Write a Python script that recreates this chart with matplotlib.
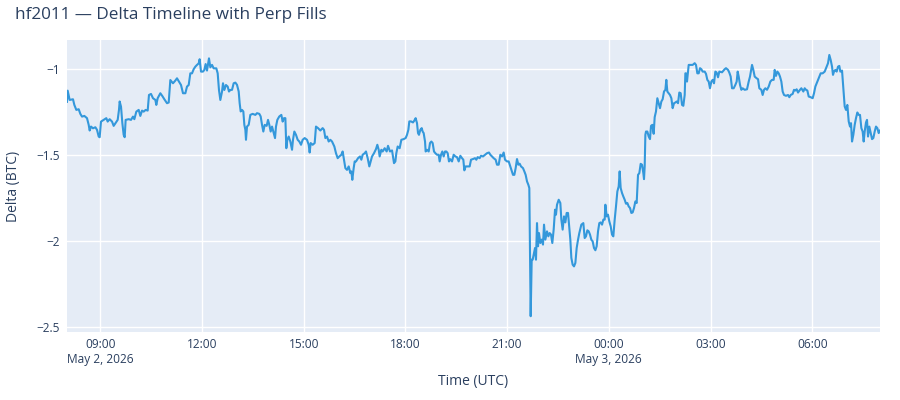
import numpy as np
import pandas as pd
import matplotlib
matplotlib.use("Agg")
import matplotlib.pyplot as plt
import matplotlib.dates as mdates

plt.rcParams['font.family'] = ['Open Sans', 'DejaVu Sans']

# minutes after 2026-05-02 08:00 UTC, and net delta in BTC
minutes = [
    1.0, 2.2, 5.7, 11.6, 14.0, 17.5, 21.7, 24.6, 27.6, 31.7, 36.4, 39.4, 41.1, 43.5, 47.0, 51.2,
    54.1, 57.1, 58.8, 61.2, 65.9, 70.6, 73.0, 76.5, 80.7, 83.6, 86.6, 90.7, 93.0, 94.2, 96.6, 99.0,
    101.3, 103.1, 104.8, 110.2, 114.3, 117.8, 120.2, 123.7, 127.9, 130.8, 133.8, 136.7, 140.2, 143.8,
    146.1, 149.7, 153.2, 157.4, 159.1, 161.5, 166.2, 169.7, 173.3, 178.0, 181.0, 183.9, 188.6, 192.8,
    195.7, 199.2, 202.8, 206.3, 210.5, 213.4, 216.4, 219.3, 222.3, 225.2, 228.2, 231.1, 234.1, 235.8,
    238.2, 241.7, 244.1, 246.4, 248.8, 252.3, 254.7, 257.7, 260.6, 265.3, 267.7, 270.0, 272.4, 275.4,
    277.1, 279.5, 282.4, 285.4, 287.7, 290.1,
    293.1, 296.0, 299.0, 301.9, 304.9, 306.6, 308.4, 310.8, 313.1, 314.9, 316.7, 317.8, 319.6, 322.6,
    325.5, 329.6, 334.4, 337.3, 341.4, 343.8, 346.2, 348.5, 350.9, 354.4, 356.8, 359.1, 361.5, 363.9,
    366.8, 369.2, 370.9, 373.3, 376.8, 380.4, 382.7, 385.1, 387.5, 389.2, 391.0, 393.4, 396.3, 399.3,
    401.0, 403.4, 406.3, 409.3, 412.2, 415.2, 418.1, 421.7, 425.8, 428.8, 430.5, 432.3, 435.8, 439.4,
    441.7, 445.3, 449.4, 453.5, 455.9, 458.3, 461.2, 464.2, 467.1, 470.1, 474.2, 477.1, 480.1, 483.0,
    486.6, 488.9, 491.3, 493.7, 496.6, 499.6, 502.5, 504.3, 506.0, 508.4, 510.2, 512.5, 516.1, 519.6,
    522.0, 524.3, 527.9, 530.2, 533.2, 536.1, 538.5, 540.9, 544.4, 547.9, 550.3, 552.7, 554.4, 557.4,
    559.7, 563.3, 566.8, 569.2, 572.7, 576.3, 578.0, 579.8, 582.2,
    583.9, 586.3, 589.8, 592.8, 596.9, 600.4, 602.8, 605.2, 606.9, 609.9, 613.4, 615.8, 618.1, 620.5,
    622.3, 624.0, 626.4, 628.8, 630.5, 632.3, 634.7, 635.8, 638.2, 641.2, 643.5, 645.9, 648.2, 650.6,
    653.0, 655.9, 658.9, 660.6, 663.0, 665.3, 667.7, 670.1, 672.4, 674.8, 677.1, 679.5, 682.5, 685.4,
    688.4, 691.3, 694.3, 697.2, 700.2, 702.5, 704.3, 706.6, 710.2, 713.7, 716.1, 719.6, 723.2, 725.5,
    727.9, 731.4, 733.8, 737.3, 740.9, 744.4, 747.9, 750.3, 753.3, 756.2, 759.7, 762.1, 765.1, 768.0,
    771.0, 773.9, 776.3, 779.8, 782.8, 785.7, 788.7, 790.4, 792.8, 795.1, 797.5, 799.9, 802.2, 804.6,
    808.1, 810.5, 812.8, 815.2, 817.6, 819.3, 819.9, 821.7, 823.5, 825.2, 827.0, 829.4, 831.1, 832.9,
    834.7, 836.4, 838.8, 841.2, 843.5, 845.3, 847.7, 850.6, 853.0, 855.3, 857.7, 860.0, 862.4, 864.8,
    866.5, 868.3, 871.3, 874.2,
    876.0, 878.3, 880.7, 883.1, 885.4, 887.8, 890.1, 891.9, 893.7, 896.0, 898.4, 900.8, 903.1, 905.5,
    907.8, 911.4, 914.9, 917.3, 919.6, 922.0, 924.4, 926.7, 929.1, 931.4, 933.8, 936.2, 938.5, 940.9,
    943.2, 945.6, 948.0, 950.3, 952.7, 953.9, 956.2, 958.6, 960.9, 963.3, 965.7, 968.0, 970.4, 972.7,
    975.1, 977.5, 979.2, 981.0, 983.4, 985.7, 988.1, 990.4, 992.8, 995.2, 997.5, 999.9, 1002.2, 1004.6,
    1007.0, 1009.3, 1010.5, 1011.7, 1014.0, 1016.4, 1018.8, 1021.1, 1022.3, 1023.5, 1024.7, 1025.8,
    1028.2, 1030.6, 1032.9, 1034.7, 1037.0, 1039.4, 1041.2, 1043.5, 1045.9, 1048.3, 1050.6, 1053.0,
    1055.3, 1057.7, 1060.1, 1061.8, 1063.6, 1066.0, 1068.3, 1070.7, 1073.0, 1075.4, 1077.8, 1080.1,
    1082.5, 1084.8, 1087.2, 1089.6, 1091.9, 1094.3, 1095.5, 1096.6, 1098.4, 1101.4, 1104.9, 1108.4,
    1112.0, 1114.3, 1116.7, 1119.1, 1121.4, 1123.8, 1126.1, 1129.7, 1132.0, 1134.4, 1136.8, 1139.1,
    1141.5, 1143.8, 1146.2, 1148.6, 1150.9, 1153.3, 1155.6, 1160.4, 1165.1,
    1167.4, 1171.0, 1173.3, 1175.7, 1178.1, 1181.0, 1184.0, 1186.3, 1188.1, 1189.9, 1192.2, 1194.6,
    1196.9, 1200.5, 1204.6, 1207.6, 1209.9, 1213.5, 1215.8, 1218.2, 1221.7, 1224.1, 1226.4, 1230.0,
    1232.3, 1234.7, 1237.1, 1240.0, 1243.0, 1245.9, 1248.9, 1251.8, 1253.6, 1255.9, 1258.3, 1260.7,
    1263.0, 1265.4, 1267.7, 1270.1, 1273.6, 1277.2, 1279.5, 1281.9, 1285.4, 1287.8, 1290.2, 1292.5,
    1294.9, 1298.4, 1300.8, 1304.3, 1306.7, 1309.0, 1311.4, 1313.8, 1317.3, 1320.8, 1323.2, 1325.6,
    1327.9, 1331.5, 1335.0, 1338.5, 1342.1, 1345.6, 1348.0, 1350.3, 1352.7, 1355.1, 1356.8, 1358.6,
    1361.0, 1363.3, 1365.7, 1368.0, 1369.8, 1372.8, 1375.1, 1377.5, 1379.8, 1382.2, 1384.6, 1386.9,
    1388.7, 1390.5, 1392.8, 1395.2, 1397.5, 1399.9, 1402.3, 1404.6, 1407.0, 1409.3, 1411.1, 1412.9,
    1415.2, 1417.0, 1418.8, 1421.1, 1423.5, 1425.9, 1428.2, 1430.6, 1432.9, 1435.3, 1437.7, 1440.0,
]
delta = [
    -1.19, -1.125, -1.179, -1.175, -1.208, -1.237, -1.233, -1.26, -1.276, -1.272, -1.285, -1.324,
    -1.357, -1.334, -1.344, -1.338, -1.353, -1.392, -1.396, -1.305, -1.295, -1.285, -1.305, -1.291,
    -1.305, -1.33, -1.315, -1.295, -1.237, -1.188, -1.218, -1.315, -1.382, -1.396, -1.295, -1.291,
    -1.295, -1.276, -1.291, -1.247, -1.237, -1.272, -1.241, -1.247, -1.237, -1.241, -1.15, -1.144,
    -1.169, -1.179, -1.208, -1.169, -1.14, -1.156, -1.175, -1.198, -1.194, -1.063, -1.082, -1.066,
    -1.053, -1.072, -1.092, -1.14, -1.14, -1.101, -1.092, -1.024, -1.024, -1.0, -0.985, -0.975,
    -0.966, -0.942, -1.014, -1.014, -1.004, -0.97, -1.008, -0.937, -0.989, -0.975, -0.995, -0.995,
    -1.024, -1.121, -1.179, -1.13, -1.082, -1.121, -1.092, -1.101, -1.13, -1.121,
    -1.12, -1.082, -1.078, -1.091, -1.13, -1.198, -1.246, -1.237, -1.246, -1.324, -1.353, -1.411,
    -1.334, -1.324, -1.266, -1.26, -1.266, -1.256, -1.26, -1.275, -1.324, -1.363, -1.324, -1.33,
    -1.295, -1.324, -1.363, -1.334, -1.372, -1.401, -1.334, -1.295, -1.275, -1.266, -1.305, -1.285,
    -1.285, -1.46, -1.411, -1.392, -1.421, -1.469, -1.411, -1.363, -1.382, -1.411, -1.421, -1.44,
    -1.411, -1.401, -1.411, -1.44, -1.485, -1.43, -1.44, -1.43, -1.334, -1.343, -1.357, -1.343,
    -1.353, -1.401, -1.392, -1.421, -1.411, -1.421, -1.45, -1.489, -1.518, -1.508, -1.498, -1.479,
    -1.527, -1.576, -1.586, -1.566, -1.605, -1.595, -1.644, -1.576, -1.537, -1.537, -1.518, -1.508,
    -1.527, -1.498, -1.489, -1.479, -1.518, -1.566, -1.537, -1.508, -1.489, -1.465, -1.44, -1.469,
    -1.508, -1.469, -1.479, -1.46, -1.479, -1.446, -1.479, -1.473, -1.508, -1.547, -1.537,
    -1.489, -1.45, -1.46, -1.411, -1.407, -1.401, -1.382, -1.353, -1.304, -1.304, -1.31, -1.299,
    -1.285, -1.314, -1.372, -1.382, -1.353, -1.343, -1.363, -1.372, -1.421, -1.479, -1.469, -1.479,
    -1.43, -1.421, -1.43, -1.479, -1.489, -1.498, -1.498, -1.537, -1.498, -1.479, -1.508, -1.479,
    -1.479, -1.489, -1.537, -1.524, -1.537, -1.498, -1.508, -1.512, -1.537, -1.504, -1.518, -1.527,
    -1.589, -1.566, -1.566, -1.566, -1.527, -1.523, -1.518, -1.527, -1.512, -1.518, -1.504, -1.508,
    -1.498, -1.489, -1.485, -1.498, -1.508, -1.518, -1.527, -1.556, -1.556, -1.498, -1.508, -1.485,
    -1.527, -1.537, -1.537, -1.566, -1.595, -1.615, -1.615, -1.576, -1.523, -1.556, -1.55, -1.566,
    -1.576, -1.595, -1.615, -1.653, -1.673, -1.692, -1.895, -2.438, -2.109, -2.109, -2.08, -2.041,
    -2.109, -1.896, -2.031, -1.954, -2.012, -1.992, -2.021, -1.905, -1.992, -1.944, -1.973, -1.954,
    -1.963, -2.012, -1.934, -1.818, -1.847, -1.789, -1.76, -1.779,
    -1.876, -1.934, -1.857, -1.892, -1.837, -1.837, -1.925, -1.993, -2.099, -2.138, -2.148, -2.128,
    -2.041, -1.993, -1.954, -1.905, -1.896, -1.983, -1.973, -1.938, -1.944, -1.963, -1.993, -2.002,
    -2.041, -2.054, -2.031, -1.944, -1.896, -1.892, -1.905, -1.876, -1.876, -1.789, -1.857, -1.847,
    -1.886, -1.915, -1.963, -1.973, -1.876, -1.799, -1.712, -1.682, -1.595, -1.692, -1.721, -1.741,
    -1.76, -1.783, -1.779, -1.799, -1.808, -1.837, -1.834, -1.808, -1.77, -1.779, -1.702, -1.615,
    -1.605, -1.551, -1.556, -1.605, -1.64, -1.566, -1.382, -1.363, -1.363, -1.392, -1.407, -1.33,
    -1.324, -1.376, -1.279, -1.246, -1.169, -1.198, -1.227, -1.188, -1.175, -1.13, -1.12, -1.062,
    -1.13, -1.14, -1.15, -1.169, -1.227, -1.198, -1.194, -1.188, -1.198, -1.136, -1.14, -1.208,
    -1.213, -1.15, -1.024, -1.024, -1.072, -0.975, -0.975, -0.975, -0.965, -0.975, -1.024, -1.024,
    -0.994, -1.0, -1.014, -1.014, -1.027, -1.062, -1.072, -1.111, -1.072, -1.062, -1.082, -1.014,
    -1.02, -1.047, -1.014, -1.018, -1.0,
    -0.994, -1.004, -1.02, -1.043, -1.111, -1.111, -1.091, -1.072, -1.014, -1.043, -1.091, -1.12,
    -1.111, -1.12, -1.117, -1.072, -1.043, -0.975, -1.004, -1.043, -1.053, -1.058, -1.111, -1.12,
    -1.15, -1.12, -1.111, -1.12, -1.101, -1.072, -1.062, -1.062, -1.004, -1.039, -1.014, -1.024,
    -1.043, -1.072, -1.13, -1.15, -1.155, -1.15, -1.163, -1.15, -1.144, -1.12, -1.124, -1.117,
    -1.136, -1.12, -1.111, -1.13, -1.111, -1.12, -1.124, -1.159, -1.163, -1.169, -1.14, -1.101,
    -1.082, -1.053, -1.024, -1.024, -1.014, -0.985, -0.965, -0.917, -0.946, -0.985, -1.033, -1.014,
    -1.004, -1.014, -0.985, -0.981, -1.014, -1.008, -1.111, -1.217, -1.237, -1.208, -1.304, -1.334,
    -1.314, -1.421, -1.382, -1.324, -1.285, -1.252, -1.266, -1.266, -1.343, -1.363, -1.421, -1.363,
    -1.31, -1.295, -1.392, -1.334, -1.372, -1.407, -1.401, -1.363, -1.334, -1.343, -1.372, -1.357,
]

y_ticks = [-1, -1.5, -2, -2.5]
y_labels = ['\u22121', '\u22121.5', '\u22122', '\u22122.5']

start = pd.Timestamp('2026-05-02 08:00')
times = start + pd.to_timedelta(minutes, unit='min')

text_col = '#2a3f5f'
fig = plt.figure(figsize=(9, 4), dpi=100)
ax = fig.add_axes([67 / 900, 68 / 400, 813 / 900, 292 / 400])
ax.set_facecolor('#E5ECF6')
ax.plot(times, delta, color='#3498db', lw=1.5, zorder=3)

ax.set_xlim(times[0], times[-1])
ax.set_ylim(-2.53, -0.83)
ax.set_yticks(y_ticks)
ax.set_yticklabels(y_labels)

ax.xaxis.set_major_locator(mdates.HourLocator(byhour=range(0, 24, 3)))


def fmt(x, pos):
    d = mdates.num2date(x)
    s = d.strftime('%H:%M')
    if pos == 0 or d.hour == 0:
        s += '\n' + d.strftime('%b ') + str(d.day) + d.strftime(', %Y')
    return s


ax.xaxis.set_major_formatter(plt.FuncFormatter(fmt))
ax.grid(True, color='white', lw=1)
ax.set_axisbelow(True)
for s in ax.spines.values():
    s.set_visible(False)
ax.tick_params(length=0, labelsize=8.6, colors=text_col)
ax.tick_params(axis='x', pad=4)
ax.tick_params(axis='y', pad=5)
for lab in ax.get_xticklabels():
    lab.set_multialignment('center')

fig.text(15 / 900, 1 - 15 / 400, 'hf2011 \u2014 Delta Timeline with Perp Fills',
         fontsize=12.3, color=text_col, ha='left', va='center')
fig.text(473 / 900, 1 - 382 / 400, 'Time (UTC)', fontsize=10, color=text_col,
         ha='center', va='center')
fig.text(14 / 900, 1 - 186 / 400, 'Delta (BTC)', fontsize=10, color=text_col,
         ha='center', va='center', rotation=90)

fig.savefig('out.png', dpi=100)
